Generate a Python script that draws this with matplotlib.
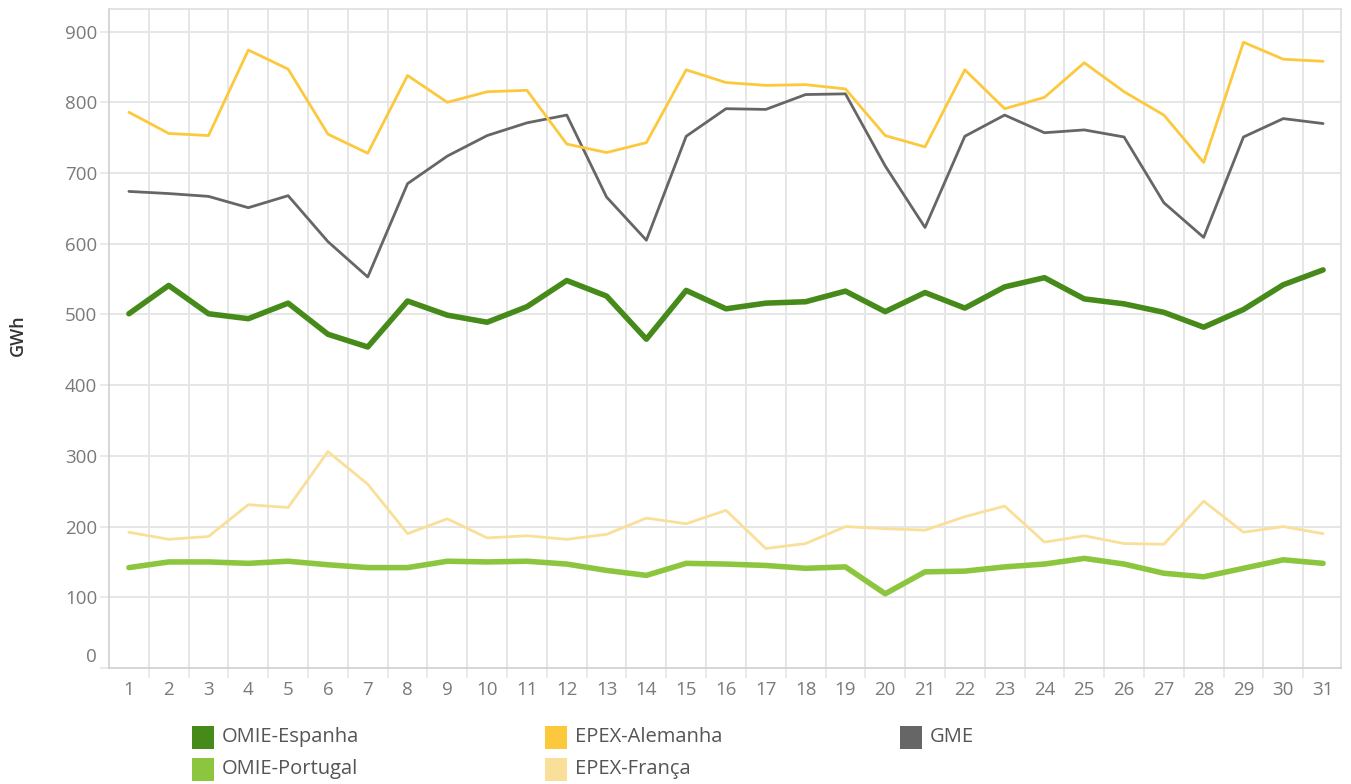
import matplotlib.pyplot as plt
from matplotlib.patches import Rectangle
from matplotlib.transforms import ScaledTranslation

plt.rcParams['font.family'] = ['Open Sans', 'DejaVu Sans']

days = list(range(1, 32))

omie_espanha = [501, 541, 501, 494, 516, 472, 454, 519, 499, 489, 511, 548, 526, 465, 534, 508,
                516, 518, 533, 504, 531, 509, 539, 552, 522, 515, 503, 482, 507, 542, 563]
omie_portugal = [142, 150, 150, 148, 151, 146, 142, 142, 151, 150, 151, 147, 138, 131, 148, 147,
                 145, 141, 143, 105, 136, 137, 143, 147, 155, 147, 134, 129, 141, 153, 148]
epex_alemanha = [786, 756, 753, 874, 847, 755, 728, 838, 800, 815, 817, 741, 729, 743, 846, 828,
                 824, 825, 819, 753, 737, 846, 791, 807, 856, 815, 782, 715, 885, 861, 858]
epex_franca = [192, 182, 186, 231, 227, 306, 260, 190, 211, 184, 187, 182, 189, 212, 204, 223,
               169, 176, 200, 197, 195, 214, 229, 178, 187, 176, 175, 236, 192, 200, 190]
gme = [674, 671, 667, 651, 668, 603, 553, 685, 724, 753, 771, 782, 666, 605, 752, 791,
       790, 811, 812, 710, 623, 752, 782, 757, 761, 751, 658, 609, 751, 777, 770]

y_ticks = [0, 100, 200, 300, 400, 500, 600, 700, 800, 900]

# name, values, colour, width, legend slot (column, row)
series = [
    ('GME', gme, '#666666', 2.0, (2, 0)),
    ('EPEX-Alemanha', epex_alemanha, '#FCC83C', 2.0, (1, 0)),
    ('EPEX-França', epex_franca, '#FADF98', 2.0, (1, 1)),
    ('OMIE-Portugal', omie_portugal, '#8CC63E', 4.0, (0, 1)),
    ('OMIE-Espanha', omie_espanha, '#468A1A', 4.0, (0, 0)),
]

W, H = 1351, 784
fig = plt.figure(figsize=(W / 100, H / 100), dpi=100)
ax = fig.add_axes([109 / W, 1 - 668 / H, (1341 - 109) / W, (668 - 9) / H])

grid_c = '#e6e6e6'
for name, vals, col, lw, _ in series:
    ax.plot(days, vals, color=col, lw=lw * 0.75 * 1.33, solid_joinstyle='round',
            solid_capstyle='round', zorder=3)

ax.set_xlim(0.5, 31.45)
ax.set_ylim(0, 932)
ax.set_xticks(days)
ax.set_xticks([d + 0.5 for d in days[:-1]], minor=True)
ax.set_yticks(y_ticks)

ax.grid(False)
for d in days[:-1]:
    ax.axvline(d + 0.5, color=grid_c, lw=1.4, zorder=1)
for v in y_ticks[1:]:
    ax.axhline(v, color=grid_c, lw=1.4, zorder=1)

ax.tick_params(axis='x', which='major', length=0, pad=9.5, labelsize=13.5, labelcolor='#7a7a7a')
ax.tick_params(axis='x', which='minor', length=7, width=1.2, color=grid_c)
ax.tick_params(axis='y', length=6.5, width=1.2, color=grid_c, pad=2, labelsize=13.5,
               labelcolor='#7a7a7a')

for side in ['left', 'bottom']:
    ax.spines[side].set_color('#cfcfcf')
    ax.spines[side].set_linewidth(1.2)
for side in ['top', 'right']:
    ax.spines[side].set_color('#dedede')
    ax.spines[side].set_linewidth(1.2)

# lift the zero label off the baseline
zero_lbl = ax.yaxis.get_major_ticks()[0].label1
zero_lbl.set_transform(zero_lbl.get_transform() + ScaledTranslation(0, 0.13, fig.dpi_scale_trans))

fig.text(18 / W, 1 - 335 / H, 'GWh', rotation=90, ha='center', va='center',
         fontsize=13, fontweight='semibold', color='#333333')

# legend below the plot
col_x = [192, 545, 900]
row_y = [737, 769]
for name, vals, col, lw, (c, r) in series:
    x0, yc = col_x[c], row_y[r]
    fig.patches.append(Rectangle((x0 / W, 1 - (yc + 11.5) / H), 22 / W, 23 / H,
                                 transform=fig.transFigure, facecolor=col, edgecolor='none'))
    fig.text((x0 + 30) / W, 1 - yc / H, name, ha='left', va='center',
             fontsize=14.5, color='#555555')

fig.savefig('out.png', dpi=100)
